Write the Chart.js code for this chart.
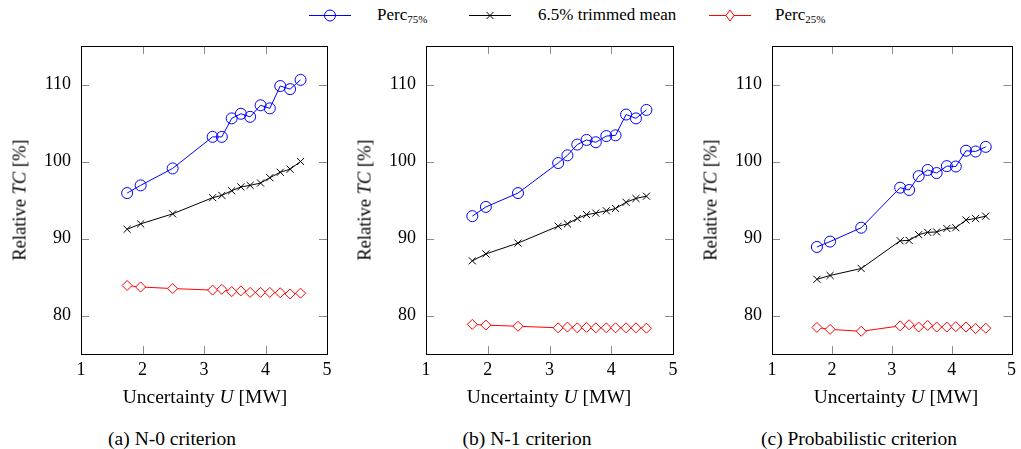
<!DOCTYPE html>
<html>
<head>
<meta charset="utf-8">
<script src="https://cdn.jsdelivr.net/npm/chart.js@4/dist/chart.umd.min.js"></script>
<style>
  html, body { margin: 0; padding: 0; background: #fff; }
  #page { position: relative; width: 1021px; height: 449px; overflow: hidden; font-family: "Liberation Serif", "Times New Roman", "DejaVu Serif", serif; color: #000; }
  canvas { position: absolute; top: 0; }
  .txt { position: absolute; white-space: nowrap; font-family: "Liberation Serif", "Times New Roman", "DejaVu Serif", serif; color: #000; }
  .leg { font-size: 17px; top: 5px; }
  .leg sub { font-size: 11px; vertical-align: -3px; }
  .xt { font-size: 19.5px; top: 386px; transform: translateX(-50%); }
  .yt { font-size: 18.5px; top: 200px; transform: translate(-50%, -50%) rotate(-90deg); }
  .cap { font-size: 19.5px; top: 428px; transform: translateX(-50%); }
  svg { position: absolute; left: 0; top: 0; }
</style>
</head>
<body>
<div id="page">
  <svg width="1021" height="30">
    <line x1="309" y1="15.5" x2="351" y2="15.5" stroke="#0000ff" stroke-width="1"/>
    <circle cx="330" cy="15.5" r="5.5" fill="none" stroke="#0000ff" stroke-width="1"/>
    <line x1="469" y1="15.5" x2="511" y2="15.5" stroke="#000" stroke-width="1"/>
    <path d="M486.5 12 L493.5 19 M486.5 19 L493.5 12" stroke="#000" stroke-width="1"/>
    <line x1="709" y1="15.5" x2="751" y2="15.5" stroke="#ff0000" stroke-width="1"/>
    <path d="M730 10 L734 15.5 L730 21 L726 15.5 Z" fill="#fff" stroke="#ff0000" stroke-width="1"/>
  </svg>
  <div class="txt leg" style="left:377px;">Perc<sub>75%</sub></div>
  <div class="txt leg" style="left:538px;">6.5% trimmed mean</div>
  <div class="txt leg" style="left:775px;">Perc<sub>25%</sub></div>

  <canvas id="c0" width="340" height="420" style="left:0px"></canvas>
  <canvas id="c1" width="340" height="420" style="left:345px"></canvas>
  <canvas id="c2" width="330" height="420" style="left:691px"></canvas>

  <div class="txt yt" style="left:20px;">Relative <i>TC</i> [%]</div>
  <div class="txt yt" style="left:365px;">Relative <i>TC</i> [%]</div>
  <div class="txt yt" style="left:711px;">Relative <i>TC</i> [%]</div>

  <div class="txt xt" style="left:205px;">Uncertainty <i>U</i> [MW]</div>
  <div class="txt xt" style="left:549px;">Uncertainty <i>U</i> [MW]</div>
  <div class="txt xt" style="left:896px;">Uncertainty <i>U</i> [MW]</div>

  <div class="txt cap" style="left:172px;">(a) N-0 criterion</div>
  <div class="txt cap" style="left:527px;">(b) N-1 criterion</div>
  <div class="txt cap" style="left:859px;">(c) Probabilistic criterion</div>
</div>
<script>
// ---- data ----
const uncertainty = [1.75, 1.97, 2.49, 3.14, 3.29, 3.45, 3.6, 3.75, 3.92, 4.07, 4.24, 4.40, 4.57];
const xTicks = [1, 2, 3, 4, 5];
const yTicks = [80, 90, 100, 110];

const n0P75  = [95.9, 96.9, 99.1, 103.2, 103.2, 105.6, 106.2, 105.8, 107.3, 106.9, 109.8, 109.4, 110.6];
const n0Mean = [91.2, 91.9, 93.2, 95.3, 95.6, 96.2, 96.7, 96.9, 97.2, 97.9, 98.6, 99.0, 100.0];
const n0P25  = [83.9, 83.7, 83.5, 83.3, 83.4, 83.1, 83.2, 83.0, 83.0, 83.0, 82.95, 82.8, 82.9];

const n1P75  = [92.9, 94.1, 95.9, 99.8, 100.8, 102.2, 102.8, 102.5, 103.3, 103.4, 106.1, 105.6, 106.7];
const n1Mean = [87.1, 88.0, 89.4, 91.6, 91.9, 92.6, 93.1, 93.3, 93.6, 93.9, 94.7, 95.2, 95.5];
const n1P25  = [78.85, 78.75, 78.6, 78.4, 78.5, 78.4, 78.45, 78.4, 78.4, 78.4, 78.4, 78.4, 78.35];

const prP75  = [88.9, 89.6, 91.4, 96.6, 96.3, 98.1, 98.9, 98.5, 99.4, 99.35, 101.4, 101.3, 101.9];
const prMean = [84.7, 85.2, 86.1, 89.7, 89.75, 90.5, 90.8, 90.85, 91.3, 91.4, 92.4, 92.6, 92.9];
const prP25  = [78.45, 78.2, 77.95, 78.65, 78.8, 78.5, 78.7, 78.5, 78.5, 78.55, 78.5, 78.3, 78.35];

const panels = [
  { id: 'c0', p75: n0P75, mean: n0Mean, p25: n0P25, padRight: 13 },
  { id: 'c1', p75: n1P75, mean: n1Mean, p25: n1P25, padRight: 12 },
  { id: 'c2', p75: prP75, mean: prMean, p25: prP25, padRight: 2 }
];

const pts = arr => uncertainty.map((x, i) => ({ x: x, y: arr[i] }));

const frameTicks = {
  id: 'frameTicks',
  beforeDatasetsDraw(chart) {
    const { ctx, chartArea: a, scales } = chart;
    const L = 8;
    ctx.save();
    ctx.strokeStyle = '#8c8c8c';
    ctx.lineWidth = 1;
    ctx.beginPath();
    xTicks.forEach(v => {
      const x = Math.round(scales.x.getPixelForValue(v)) + 0.5;
      ctx.moveTo(x, a.bottom); ctx.lineTo(x, a.bottom - L);
      ctx.moveTo(x, a.top); ctx.lineTo(x, a.top + L);
    });
    yTicks.forEach(v => {
      const y = Math.round(scales.y.getPixelForValue(v)) + 0.5;
      ctx.moveTo(a.left, y); ctx.lineTo(a.left + L, y);
      ctx.moveTo(a.right, y); ctx.lineTo(a.right - L, y);
    });
    ctx.stroke();
    ctx.restore();
  },
  afterDatasetsDraw(chart) {
    const { ctx, chartArea: a } = chart;
    ctx.save();
    ctx.strokeStyle = '#000';
    ctx.lineWidth = 1;
    ctx.strokeRect(Math.round(a.left) + 0.5, Math.round(a.top) + 0.5,
                   Math.round(a.right - a.left), Math.round(a.bottom - a.top));
    ctx.restore();
  }
};

const tickFont = { family: '"Liberation Serif", "Times New Roman", "DejaVu Serif", serif', size: 18 };

panels.forEach(p => {
  new Chart(document.getElementById(p.id), {
    type: 'line',
    data: {
      datasets: [
        { label: 'Perc75%', data: pts(p.p75), borderColor: '#0000ff', borderWidth: 1,
          pointStyle: 'circle', pointRadius: 5.5, pointBorderWidth: 1,
          pointBorderColor: '#0000ff', pointBackgroundColor: 'rgba(0,0,0,0)', tension: 0 },
        { label: '6.5% trimmed mean', data: pts(p.mean), borderColor: '#000', borderWidth: 1,
          pointStyle: 'crossRot', pointRadius: 5, pointBorderWidth: 1,
          pointBorderColor: '#000', tension: 0 },
        { label: 'Perc25%', data: pts(p.p25), borderColor: '#ff0000', borderWidth: 1,
          pointStyle: 'rectRot', pointRadius: 5, pointBorderWidth: 1,
          pointBorderColor: '#ff0000', pointBackgroundColor: '#fff', tension: 0 }
      ]
    },
    options: {
      responsive: false,
      animation: false,
      devicePixelRatio: 1,
      layout: { padding: { top: 46, right: p.padRight, bottom: 6, left: 0 } },
      plugins: { legend: { display: false }, tooltip: { enabled: false } },
      scales: {
        x: {
          type: 'linear', min: 1, max: 5,
          afterBuildTicks: s => { s.ticks = xTicks.map(v => ({ value: v })); },
          afterFit: s => { s.height = 60; },
          grid: { display: false, drawTicks: false },
          border: { display: false },
          ticks: { color: '#000', font: tickFont, padding: 5 }
        },
        y: {
          type: 'linear', min: 75, max: 115,
          afterBuildTicks: s => { s.ticks = yTicks.map(v => ({ value: v })); },
          afterFit: s => { s.width = 81; },
          grid: { display: false, drawTicks: false },
          border: { display: false },
          ticks: { color: '#000', font: tickFont, padding: 10 }
        }
      }
    },
    plugins: [frameTicks]
  });
});
</script>
</body>
</html>
